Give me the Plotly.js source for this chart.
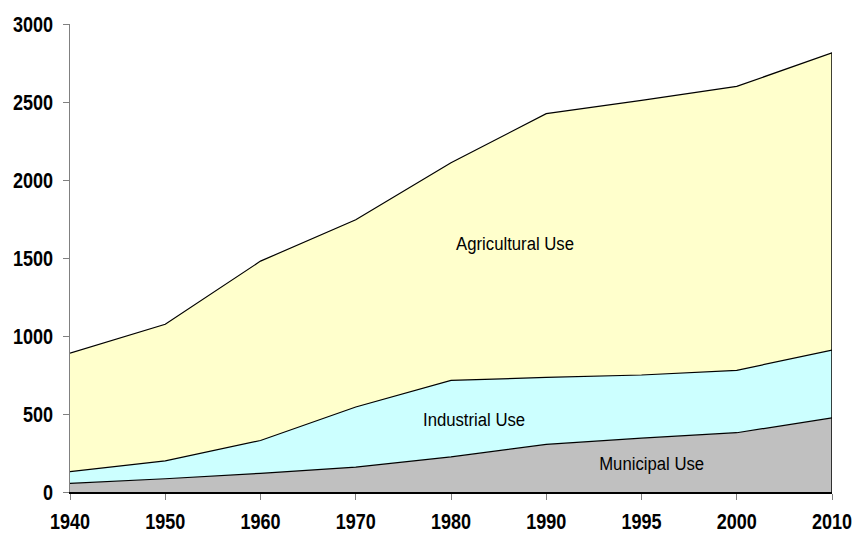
<!DOCTYPE html>
<html>
<head>
<meta charset="utf-8">
<script src="https://cdn.plot.ly/plotly-3.0.1.min.js"></script>
<style>html,body{margin:0;padding:0;background:#fff;}#chart{width:854px;height:534px;}</style>
</head>
<body>
<div id="chart"></div>
<script>
const years = ['1940','1950','1960','1970','1980','1990','1995','2000','2010'];
const municipal = [55, 85, 120, 160, 225, 305, 345, 380, 475];
const industrial = [75, 115, 210, 385, 490, 430, 405, 400, 435];
const agricultural = [760, 875, 1150, 1200, 1395, 1690, 1760, 1820, 1905];
const yTicks = [0, 500, 1000, 1500, 2000, 2500, 3000];
const seriesNames = ['Municipal Use', 'Industrial Use', 'Agricultural Use'];
const seriesColors = ['#C0C0C0', '#CCFFFF', '#FFFFCC'];

const FONT = 'Liberation Sans, Arial, sans-serif';
const seriesData = [municipal, industrial, agricultural];
const traces = seriesData.map((vals, i) => ({
  type: 'scatter', mode: 'lines', x: years, y: vals, name: seriesNames[i],
  stackgroup: 'one', fillcolor: seriesColors[i],
  line: {color: '#000', width: 1.2}, hoverinfo: 'skip', showlegend: false
}));
const last = years.length - 1;
const lastTotal = municipal[last] + industrial[last] + agricultural[last];
traces.push({type: 'scatter', mode: 'lines', x: [years[last], years[last]], y: [0, lastTotal],
  line: {color: '#000', width: 1.5}, hoverinfo: 'skip', showlegend: false});

const layout = {
  width: 854, height: 534,
  margin: {l: 70, r: 22, t: 24, b: 42},
  paper_bgcolor: '#fff', plot_bgcolor: '#fff',
  showlegend: false,
  xaxis: {type: 'category', range: [0, last], showgrid: false, zeroline: false,
    showline: true, linecolor: '#000', linewidth: 2,
    ticks: 'outside', ticklen: 6, tickcolor: '#808080', tickwidth: 1,
    ticklabelstandoff: 3,
    tickfont: {family: FONT, size: 22, color: '#000', weight: 'bold'}},
  yaxis: {range: [0, 3000], tickvals: yTicks, showgrid: false, zeroline: false,
    showline: true, linecolor: '#808080', linewidth: 1.5,
    ticks: 'outside', ticklen: 6, tickcolor: '#808080', tickwidth: 1,
    ticklabelstandoff: 5,
    tickfont: {family: FONT, size: 22, color: '#000', weight: 'bold'}},
  annotations: [
    {x: 4.67, y: 1596, text: 'Agricultural Use', showarrow: false, xref: 'x', yref: 'y',
      font: {family: FONT, size: 19, color: '#000'}},
    {x: 4.24, y: 462, text: 'Industrial Use', showarrow: false, xref: 'x', yref: 'y',
      font: {family: FONT, size: 19, color: '#000'}},
    {x: 6.11, y: 180, text: 'Municipal Use', showarrow: false, xref: 'x', yref: 'y',
      font: {family: FONT, size: 19, color: '#000'}}
  ]
};

// horizontally condense text around its anchor point (narrow typeface look)
function condense(selector, scale) {
  document.querySelectorAll(selector).forEach(t => {
    const x = parseFloat(t.getAttribute('x') || '0');
    const prev = t.getAttribute('transform') || '';
    t.setAttribute('transform',
      (prev + ' translate(' + x + ',0) scale(' + scale + ',1) translate(' + (-x) + ',0)').trim());
  });
}
Plotly.newPlot('chart', traces, layout, {displayModeBar: false, staticPlot: true}).then(() => {
  condense('#chart .xtick text, #chart .ytick text', 0.82);
  condense('#chart .annotation-text', 0.88);
});
</script>
</body>
</html>
